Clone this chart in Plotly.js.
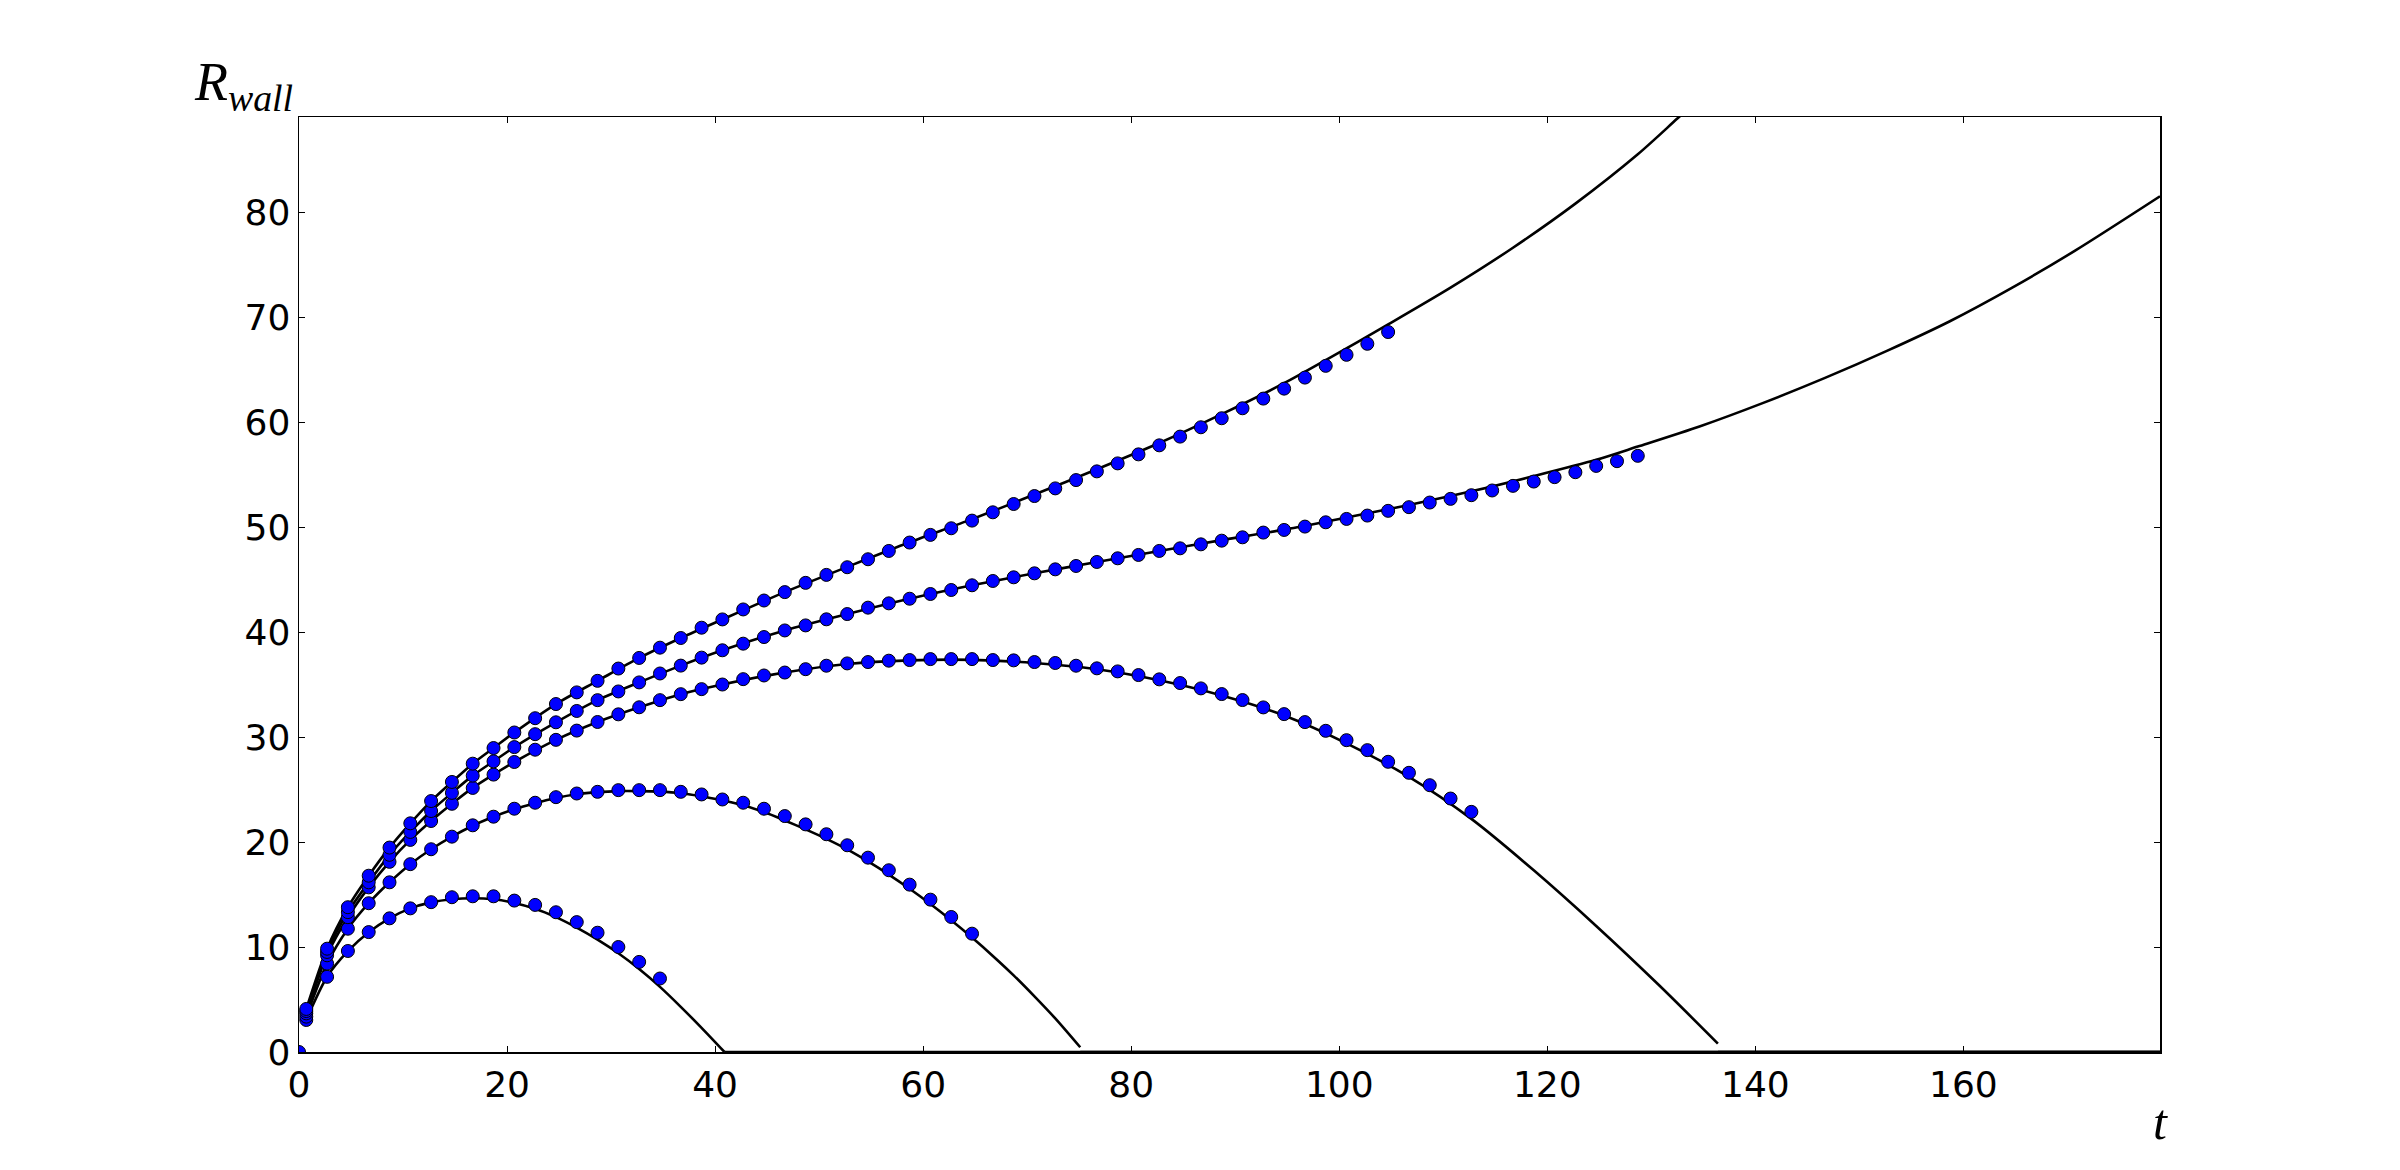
<!DOCTYPE html>
<html>
<head>
<meta charset="utf-8">
<script src="https://cdn.plot.ly/plotly-3.0.1.min.js"></script>
<style>
  html, body { margin: 0; padding: 0; background: #fff; }
  #chart { width: 2400px; height: 1170px; }
</style>
</head>
<body>
<div id="chart"></div>
<script>
// --- DATOS: tiempos de muestreo de la simulación (puntos azules) ---
const tDots = [0.7, 2.7, 4.7, 6.7, 8.7, 10.7, 12.7, 14.7, 16.7, 18.7, 20.7, 22.7, 24.7, 26.7,
  28.7, 30.7, 32.7, 34.7, 36.7, 38.7, 40.7, 42.7, 44.7, 46.7, 48.7, 50.7, 52.7, 54.7, 56.7,
  58.7, 60.7, 62.7, 64.7, 66.7, 68.7, 70.7, 72.7, 74.7, 76.7, 78.7, 80.7, 82.7, 84.7, 86.7,
  88.7, 90.7, 92.7, 94.7, 96.7, 98.7, 100.7, 102.7, 104.7, 106.7, 108.7, 110.7, 112.7,
  114.7, 116.7, 118.7, 120.7, 122.7, 124.7, 126.7, 128.7];

// R_wall simulado, una serie por caso (de abajo hacia arriba)
const dotsA = [3.05, 7.16, 9.62, 11.42, 12.73, 13.68, 14.27, 14.74, 14.83, 14.83, 14.42, 14.01,
  13.31, 12.37, 11.36, 10.0, 8.58, 7.0];
const dotsB = [3.37, 8.42, 11.74, 14.17, 16.16, 17.89, 19.31, 20.51, 21.59, 22.41, 23.17, 23.74,
  24.27, 24.62, 24.78, 24.94, 24.94, 24.94, 24.78, 24.53, 24.05, 23.74, 23.17, 22.47, 21.68,
  20.74, 19.69, 18.51, 17.31, 15.94, 14.51, 12.86, 11.27];
const dotsC = [3.68, 9.21, 12.84, 15.68, 18.11, 20.2, 22.0, 23.64, 25.15, 26.42, 27.62, 28.79,
  29.73, 30.61, 31.43, 32.16, 32.83, 33.51, 34.08, 34.56, 35.0, 35.51, 35.86, 36.14, 36.46,
  36.79, 37.01, 37.14, 37.27, 37.33, 37.42, 37.42, 37.42, 37.33, 37.3, 37.14, 37.05, 36.79,
  36.54, 36.25, 35.9, 35.49, 35.14, 34.63, 34.09, 33.52, 32.82, 32.18, 31.42, 30.59, 29.7,
  28.75, 27.64, 26.59, 25.41, 24.14, 22.87];
const dotsD = [3.9, 9.53, 13.32, 16.16, 18.78, 20.96, 22.95, 24.68, 26.32, 27.68, 29.04, 30.27,
  31.4, 32.48, 33.51, 34.34, 35.2, 36.05, 36.8, 37.56, 38.26, 38.89, 39.52, 40.15, 40.63,
  41.21, 41.71, 42.32, 42.73, 43.17, 43.62, 44.0, 44.45, 44.86, 45.21, 45.59, 45.97, 46.29,
  46.67, 47.02, 47.34, 47.72, 47.97, 48.35, 48.7, 49.02, 49.47, 49.72, 50.04, 50.45, 50.77,
  51.09, 51.54, 51.89, 52.33, 52.68, 53.03, 53.48, 53.92, 54.33, 54.75, 55.22, 55.82, 56.27,
  56.78];
const dotsE = [4.1, 9.84, 13.79, 16.79, 19.47, 21.78, 23.9, 25.72, 27.46, 28.95, 30.43, 31.79,
  33.14, 34.25, 35.35, 36.52, 37.53, 38.51, 39.43, 40.41, 41.2, 42.15, 43.0, 43.8, 44.68,
  45.44, 46.17, 46.93, 47.72, 48.52, 49.25, 49.88, 50.61, 51.4, 52.19, 52.95, 53.68, 54.47,
  55.3, 56.06, 56.92, 57.78, 58.61, 59.5, 60.36, 61.31, 62.23, 63.18, 64.23, 65.35, 66.4,
  67.45, 68.57];

// Punto inicial en el origen
const originT = [0];
const originR = [0];

// --- DATOS: curvas teóricas (líneas negras) ---
const curveAT = [0.7, 2.7, 4.7, 6.7, 8.7, 10.7, 12.7, 14.7, 16.7, 18.7, 20.7, 22.7, 24.7, 26.7,
  28.7, 30.7, 32.7, 34.7, 36.7, 38.7, 40.9];
const curveAR = [3.05, 7.16, 9.6, 11.4, 12.73, 13.68, 14.25, 14.55, 14.65, 14.55, 14.2, 13.65,
  12.85, 11.85, 10.7, 9.4, 7.9, 6.2, 4.3, 2.3, 0];

const curveBT = [0.7, 2.7, 4.7, 6.7, 8.7, 10.7, 12.7, 14.7, 16.7, 18.7, 20.7, 22.7, 24.7, 26.7,
  28.7, 30.7, 32.7, 34.7, 36.7, 38.7, 40.7, 42.7, 44.7, 46.7, 48.7, 50.7, 52.7, 54.7, 56.7,
  58.7, 60.7, 62.7, 64.7, 66.7, 68.7, 70.7, 72.7, 75.1];
const curveBR = [3.37, 8.42, 11.74, 14.17, 16.16, 17.89, 19.31, 20.51, 21.55, 22.4, 23.12, 23.7,
  24.2, 24.55, 24.75, 24.85, 24.85, 24.8, 24.65, 24.35, 23.95, 23.5, 22.85, 22.05, 21.2, 20.3,
  19.3, 18.15, 16.9, 15.55, 14.1, 12.55, 10.9, 9.15, 7.3, 5.3, 3.2, 0.45];

const curveCT = [0.7, 2.7, 4.7, 6.7, 8.7, 10.7, 12.7, 14.7, 16.7, 18.7, 20.7, 24.7, 28.7, 32.7,
  36.7, 40.7, 46.7, 52.7, 58.7, 64.7, 70.7, 76.7, 82.7, 88.7, 94.7, 100.7, 106.7, 112.7, 118.7,
  124.7, 130.7, 136.4];
const curveCR = [3.68, 9.21, 12.84, 15.68, 18.11, 20.2, 22.0, 23.64, 25.15, 26.42, 27.62, 29.73,
  31.43, 32.83, 34.08, 35.0, 36.14, 36.95, 37.3, 37.35, 37.05, 36.45, 35.4, 33.95, 32.05, 29.4,
  26.2, 22.2, 17.3, 12.0, 6.4, 0.8];

const curveDT = [0.7, 2.7, 4.7, 6.7, 8.7, 10.7, 12.7, 14.7, 16.7, 18.7, 20.7, 24.7, 28.7, 32.7,
  36.7, 40.7, 46.7, 52.7, 58.7, 64.7, 70.7, 76.7, 82.7, 88.7, 94.7, 100.7, 106.7, 112.7, 118.7,
  124.7, 128.7, 134.7, 140.7, 146.7, 152.7, 158.7, 164.7, 170.7, 178.9];
const curveDR = [3.9, 9.53, 13.32, 16.16, 18.78, 20.96, 22.95, 24.68, 26.32, 27.68, 29.04, 31.4,
  33.51, 35.2, 36.8, 38.26, 40.15, 41.71, 43.17, 44.45, 45.59, 46.67, 47.72, 48.75, 49.75, 50.9,
  52.1, 53.4, 54.85, 56.4, 57.66, 59.6, 61.8, 64.2, 66.8, 69.6, 72.8, 76.3, 81.5];

const curveET = [0.7, 2.7, 4.7, 6.7, 8.7, 10.7, 12.7, 14.7, 16.7, 18.7, 20.7, 24.7, 28.7, 32.7,
  36.7, 40.7, 46.7, 52.7, 58.7, 64.7, 70.7, 76.7, 82.7, 88.7, 94.7, 98.7, 104.7, 110.7, 116.7,
  122.7, 128.7, 132.5, 136.7];
const curveER = [4.1, 9.84, 13.79, 16.79, 19.47, 21.78, 23.9, 25.72, 27.46, 28.95, 30.43, 33.14,
  35.35, 37.53, 39.43, 41.2, 43.8, 46.2, 48.55, 50.75, 53.1, 55.5, 58.0, 60.75, 63.7, 65.9,
  69.3, 72.8, 76.6, 80.8, 85.5, 88.9, 92.7];

// Tras el colapso la pared queda en R = 0 hasta el final
const collapseT = [40.9, 75.1, 136.4];
const tMax = 178.9;
const rMax = 89.05;

const xTicks = [0, 20, 40, 60, 80, 100, 120, 140, 160];
const yTicks = [0, 10, 20, 30, 40, 50, 60, 70, 80];

// --- TRAZADOS ---
const lineStyle = { color: 'black', width: 2.6, shape: 'spline', smoothing: 0.8 };

function curveTrace(t, r) {
  return { x: t, y: r, type: 'scatter', mode: 'lines', line: lineStyle, hoverinfo: 'skip' };
}

const curves = [
  curveTrace(curveAT, curveAR),
  curveTrace(curveBT, curveBR),
  curveTrace(curveCT, curveCR),
  curveTrace(curveDT, curveDR),
  curveTrace(curveET, curveER)
];

// tramos en cero (pared colapsada)
const flatLines = collapseT.map(tc => ({
  x: [tc, tMax], y: [0, 0], type: 'scatter', mode: 'lines',
  line: { color: 'black', width: 2.6 }, hoverinfo: 'skip'
}));

const markerStyle = { color: '#0000ff', size: 13, line: { color: 'black', width: 1 } };

function dotTrace(r) {
  return { x: tDots.slice(0, r.length), y: r, type: 'scatter', mode: 'markers', marker: markerStyle };
}

const dots = [dotsA, dotsB, dotsC, dotsD, dotsE].map(dotTrace);
dots.push({ x: originT, y: originR, type: 'scatter', mode: 'markers', marker: markerStyle });

const tickFont = { family: 'DejaVu Sans', size: 36, color: 'black' };

const layout = {
  width: 2400,
  height: 1170,
  showlegend: false,
  paper_bgcolor: 'white',
  plot_bgcolor: 'white',
  margin: { l: 299, r: 240, t: 117, b: 118 },
  xaxis: {
    range: [0, tMax],
    tickvals: xTicks,
    ticks: 'inside', ticklen: 6, tickwidth: 1, tickcolor: 'black',
    showline: true, linecolor: 'black', linewidth: 1.5, mirror: 'ticks',
    showgrid: false, zeroline: false,
    tickfont: tickFont
  },
  yaxis: {
    range: [0, rMax],
    tickvals: yTicks,
    ticks: 'inside', ticklen: 6, tickwidth: 1, tickcolor: 'black',
    showline: true, linecolor: 'black', linewidth: 1.5, mirror: 'ticks',
    showgrid: false, zeroline: false,
    tickfont: tickFont
  },
  annotations: [
    {
      // etiqueta del eje Y arriba a la izquierda
      xref: 'paper', yref: 'paper', x: 0, y: 1,
      xanchor: 'right', yanchor: 'bottom', xshift: -4, yshift: -4,
      showarrow: false,
      text: '<i>R</i><sub><i>wall</i></sub>',
      font: { family: 'Liberation Serif', size: 54, color: 'black' }
    },
    {
      // etiqueta del eje X abajo a la derecha
      xref: 'paper', yref: 'paper', x: 1, y: -0.0754,
      xanchor: 'center', yanchor: 'middle',
      showarrow: false,
      text: '<i>t</i>',
      font: { family: 'Liberation Serif', size: 50, color: 'black' }
    }
  ]
};

Plotly.newPlot('chart', [...flatLines, ...curves, ...dots], layout, { staticPlot: true });
</script>
</body>
</html>
